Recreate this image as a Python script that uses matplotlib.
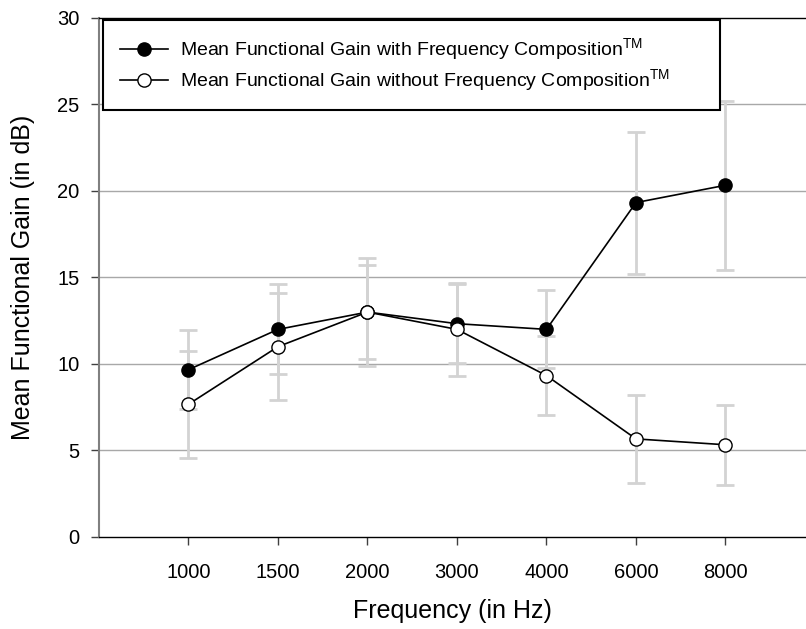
import matplotlib
matplotlib.use('Agg')
import matplotlib.pyplot as plt

plt.rcParams['font.family'] = ['Liberation Sans', 'DejaVu Sans']
plt.rcParams['mathtext.fontset'] = 'custom'
plt.rcParams['mathtext.rm'] = 'Liberation Sans'

freqs = ['1000', '1500', '2000', '3000', '4000', '6000', '8000']
gain_with = [9.67, 12.0, 13.0, 12.33, 12.0, 19.33, 20.33]
err_with = [2.3, 2.6, 2.7, 2.3, 2.25, 4.1, 4.9]
gain_without = [7.67, 11.0, 13.0, 12.0, 9.33, 5.67, 5.33]
err_without = [3.1, 3.1, 3.1, 2.7, 2.3, 2.55, 2.32]

x = list(range(len(freqs)))

fig = plt.figure(figsize=(8.06, 6.29), dpi=100)
ax = fig.add_axes([0.1228, 0.1463, 0.8772, 0.8251])

# error bars first, light gray behind the lines
for vals, errs in [(gain_with, err_with), (gain_without, err_without)]:
    ax.errorbar(x, vals, yerr=errs, fmt='none', ecolor='#d3d3d3',
                elinewidth=2, capsize=6.5, capthick=2, zorder=2)

ax.plot(x, gain_with, color='black', lw=1.2, marker='o', markersize=9.5,
        markerfacecolor='black', markeredgecolor='black', zorder=4,
        label=r'Mean Functional Gain with Frequency Composition$^{\mathrm{TM}}$')
ax.plot(x, gain_without, color='black', lw=1.2, marker='o', markersize=9.5,
        markerfacecolor='white', markeredgecolor='black', zorder=4,
        label=r'Mean Functional Gain without Frequency Composition$^{\mathrm{TM}}$')

ax.set_xlim(-1, 6.9)
ax.set_ylim(0, 30)
ax.set_xticks(x)
ax.set_xticklabels(freqs)
ax.set_yticks([0, 5, 10, 15, 20, 25, 30])

for yv in [5, 10, 15, 20, 25]:
    ax.axhline(yv, color='#a8a8a8', lw=1, zorder=1)

ax.spines['right'].set_visible(False)
ax.spines['top'].set_color('black')
ax.spines['top'].set_linewidth(1)
ax.spines['left'].set_color('#808080')
ax.spines['left'].set_linewidth(1.5)
ax.spines['bottom'].set_color('black')
ax.spines['bottom'].set_linewidth(1)

ax.tick_params(axis='both', direction='out', length=6, width=1,
               labelsize=14.5, color='#404040')
ax.tick_params(axis='x', pad=13)
ax.tick_params(axis='y', pad=8)

ax.set_xlabel('Frequency (in Hz)', fontsize=18, labelpad=12)
ax.set_ylabel('Mean Functional Gain (in dB)', fontsize=18, labelpad=16)

leg = ax.legend(loc='upper left', bbox_to_anchor=(0.0057, 0.8, 0.873, 0.196),
                mode='expand', fontsize=14, frameon=True, fancybox=False,
                edgecolor='black', framealpha=1, borderpad=0.85,
                handlelength=2.5, handletextpad=0.6, labelspacing=0.2,
                borderaxespad=0)
leg.get_frame().set_linewidth(1.5)
leg.set_zorder(10)

fig.savefig('out.png', dpi=100)
